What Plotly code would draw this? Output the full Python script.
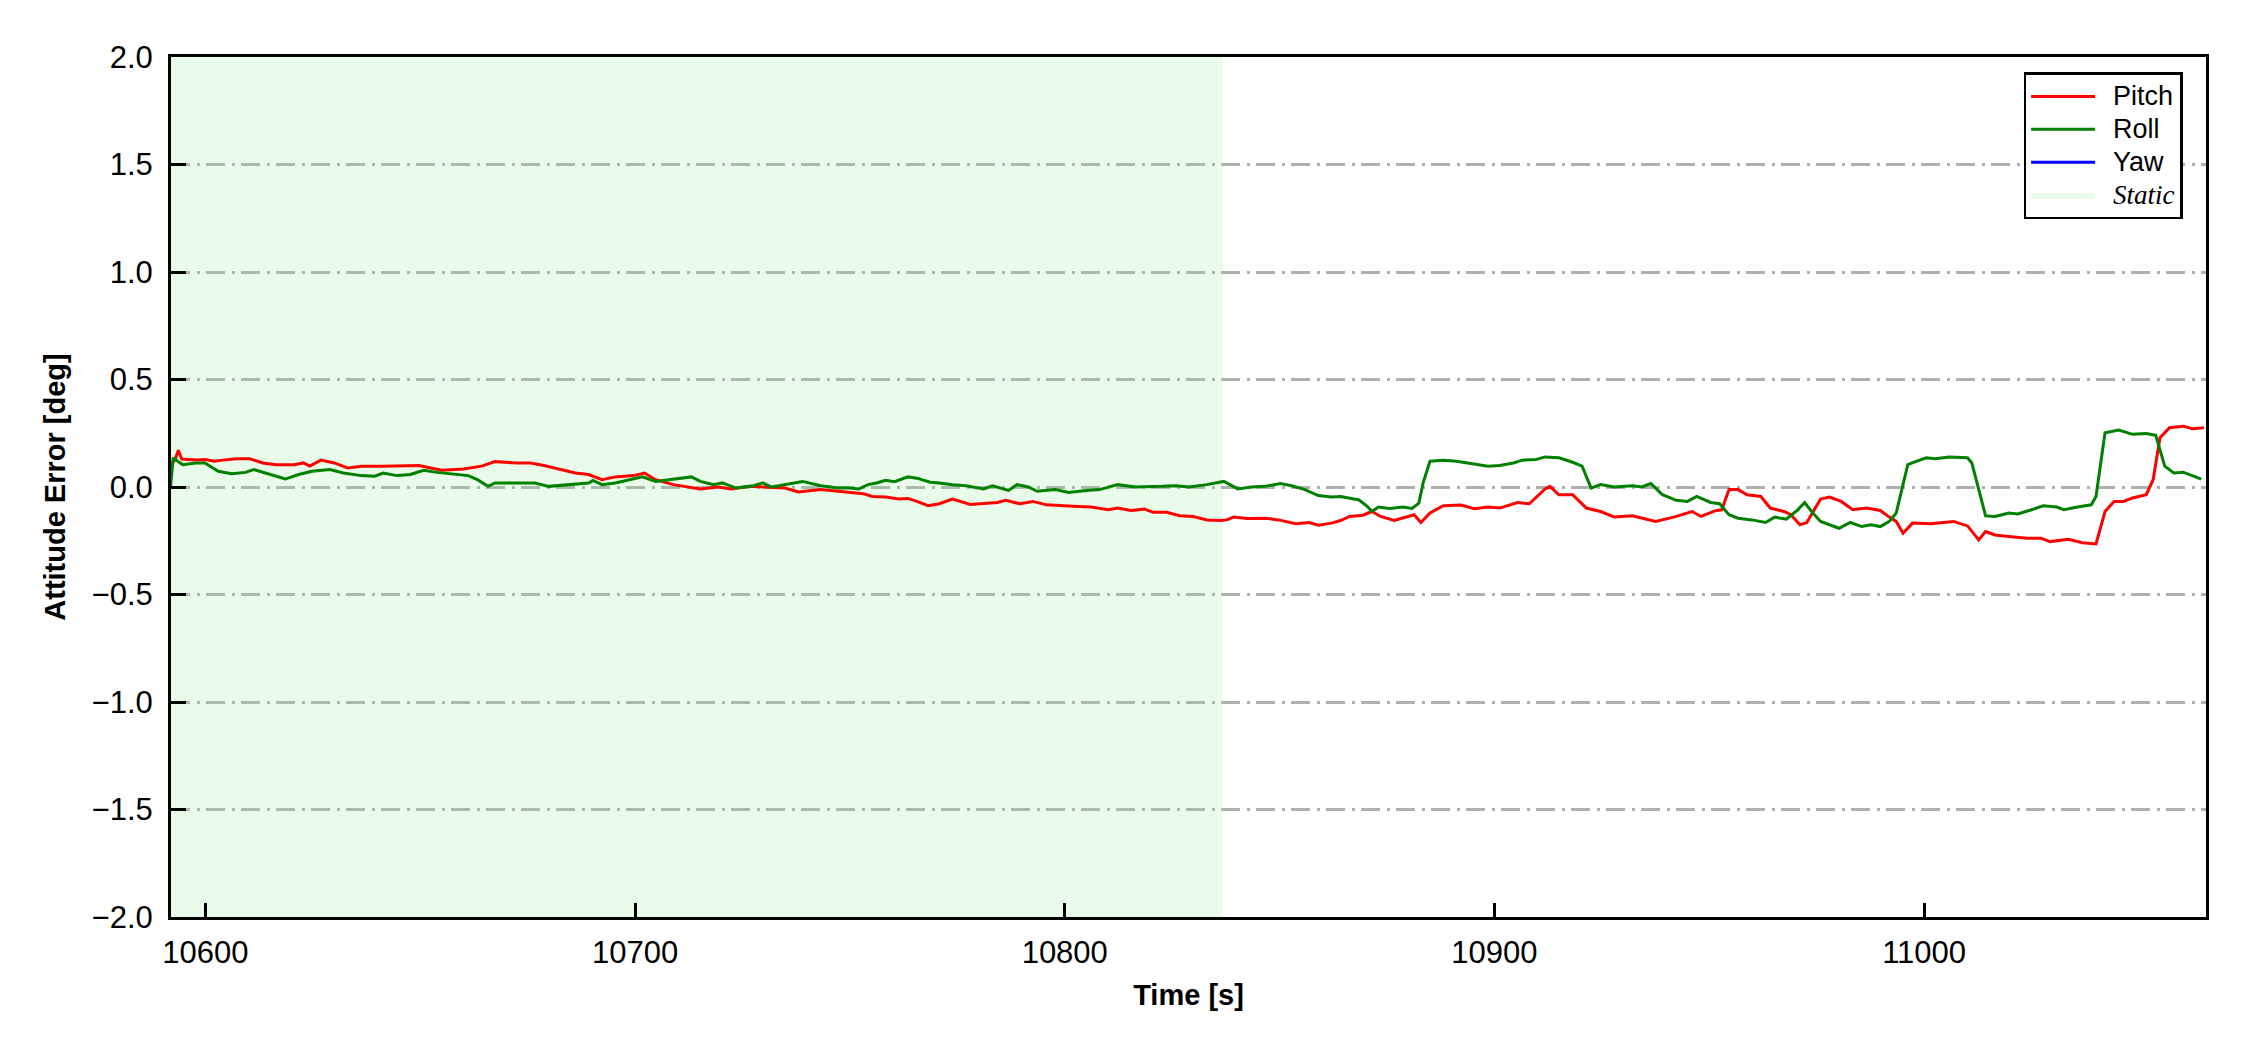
import plotly.graph_objects as go

# ---------------- data ----------------
pitch_t = [10592.0, 10593.0, 10593.7, 10594.5, 10596.0, 10598.0, 10600.0, 10602.0, 10604.0, 10607.2,
           10610.3, 10613.4, 10616.5, 10620.7, 10622.8, 10624.3, 10626.9, 10630.0, 10633.1, 10636.3,
           10641.0, 10645.6, 10649.7, 10655.0, 10660.1, 10664.3, 10667.4, 10672.6, 10675.7, 10678.8,
           10683.0, 10686.1, 10689.2, 10692.3, 10695.4, 10699.6, 10702.2, 10704.8, 10708.9, 10715.2,
           10719.3, 10722.4, 10726.6, 10729.7, 10734.9, 10738.0, 10743.2, 10747.3,
           10750.0, 10753.1, 10755.2, 10758.3, 10761.4, 10763.5, 10765.6, 10768.2, 10770.8, 10773.9,
           10778.0, 10781.1, 10784.3, 10786.3, 10789.5, 10792.6, 10795.7, 10801.9, 10806.1, 10810.2,
           10812.3, 10815.4, 10818.5, 10820.6, 10823.7, 10826.8, 10829.9, 10833.1, 10836.2, 10837.7,
           10839.3, 10842.4, 10846.6, 10849.7, 10853.8, 10856.9, 10859.0, 10862.1, 10864.2, 10866.3,
           10869.4, 10871.5, 10873.5, 10876.7, 10879.8, 10881.3, 10882.9, 10885.0, 10888.1, 10892.2,
           10895.3, 10898.5,
           10901.2, 10905.4, 10908.1, 10911.8, 10912.9, 10915.0, 10918.2, 10921.4, 10924.7, 10927.9,
           10932.1, 10937.5, 10941.7, 10946.0, 10948.1, 10951.3, 10952.9, 10954.6, 10956.7, 10958.8,
           10962.0, 10964.2, 10967.4, 10969.0, 10971.1, 10972.7, 10975.9, 10978.0, 10980.7, 10983.4,
           10986.6, 10989.8, 10991.9, 10993.5, 10995.1, 10997.3, 11001.5, 11004.7, 11006.9, 11010.1,
           11011.7, 11012.7, 11014.3, 11016.5, 11019.7, 11024.0, 11027.2, 11029.3, 11033.6, 11036.8,
           11040.0, 11042.1, 11044.2, 11046.4, 11048.5, 11051.7, 11053.3, 11054.9, 11057.1, 11060.3,
           11062.4, 11065.1]
pitch_v = [0.100, 0.130, 0.171, 0.130, 0.128, 0.126, 0.128, 0.120, 0.125, 0.131,
           0.131, 0.112, 0.104, 0.104, 0.112, 0.097, 0.125, 0.112, 0.089, 0.097,
           0.097, 0.097, 0.100, 0.078, 0.084, 0.097, 0.118, 0.112, 0.112, 0.100,
           0.081, 0.065, 0.058, 0.034, 0.047, 0.053, 0.065, 0.034, 0.011, -0.009,
           0.000, -0.009, 0.003, 0.000, -0.005, -0.023, -0.012, -0.020,
           -0.025, -0.031, -0.044, -0.047, -0.056, -0.053, -0.067, -0.087, -0.078, -0.056,
           -0.081, -0.075, -0.072, -0.062, -0.078, -0.067, -0.083, -0.090, -0.093, -0.106,
           -0.098, -0.109, -0.103, -0.118, -0.118, -0.134, -0.137, -0.153, -0.156, -0.153,
           -0.140, -0.146, -0.145, -0.153, -0.171, -0.165, -0.178, -0.168, -0.156, -0.137,
           -0.131, -0.114, -0.137, -0.156, -0.137, -0.129, -0.165, -0.121, -0.087, -0.084,
           -0.101, -0.093,
           -0.098, -0.072, -0.078, -0.009, 0.003, -0.036, -0.036, -0.098, -0.114, -0.140,
           -0.134, -0.160, -0.140, -0.114, -0.137, -0.111, -0.106, -0.012, -0.012, -0.036,
           -0.044, -0.098, -0.114, -0.129, -0.176, -0.165, -0.056, -0.047, -0.067, -0.106,
           -0.098, -0.109, -0.140, -0.160, -0.215, -0.168, -0.171, -0.165, -0.160, -0.181,
           -0.223, -0.246, -0.207, -0.223, -0.230, -0.238, -0.238, -0.254, -0.243, -0.259,
           -0.265, -0.114, -0.067, -0.067, -0.051, -0.036, 0.034, 0.229, 0.276, 0.283,
           0.271, 0.276]

roll_t = [10591.9, 10592.5, 10594.7, 10597.8, 10599.9, 10601.0, 10603.0, 10606.1, 10609.3, 10611.3,
          10614.4, 10618.6, 10621.7, 10624.8, 10629.0, 10632.1, 10636.3, 10639.4, 10641.4, 10644.6,
          10647.7, 10650.8, 10653.9, 10658.0, 10661.2, 10663.3, 10665.8, 10667.4, 10672.6, 10676.7,
          10679.9, 10685.0, 10689.2, 10690.2, 10692.3, 10695.4, 10698.5, 10701.7, 10704.8, 10708.9,
          10713.1, 10715.2, 10718.3, 10720.3, 10723.5, 10727.6, 10729.7, 10731.8, 10734.9, 10739.0,
          10743.2, 10747.3,
          10750.0, 10752.1, 10754.2, 10756.2, 10758.3, 10760.4, 10763.5, 10765.6, 10768.7, 10770.8,
          10773.9, 10777.0, 10781.1, 10783.2, 10786.9, 10788.9, 10791.5, 10793.6, 10797.8, 10800.9,
          10805.0, 10808.1, 10812.3, 10816.4, 10822.7, 10825.8, 10828.9, 10833.1, 10837.0, 10840.3,
          10843.4, 10846.6, 10850.2, 10852.8, 10855.9, 10859.0, 10862.1, 10864.2, 10867.3, 10868.4,
          10870.4, 10871.5, 10873.0, 10875.6, 10878.7, 10880.8, 10882.4, 10883.4, 10885.0, 10888.1,
          10891.2, 10895.3, 10898.5,
          10901.2, 10904.4, 10906.5, 10909.7, 10911.8, 10915.0, 10918.2, 10920.4, 10922.5, 10924.7,
          10927.9, 10932.1, 10934.3, 10936.4, 10939.1, 10942.3, 10944.9, 10947.1, 10950.3, 10952.4,
          10954.6, 10956.7, 10959.9, 10963.1, 10965.2, 10967.9, 10970.6, 10972.2, 10973.8, 10975.9,
          10980.2, 10982.8, 10985.5, 10987.6, 10989.8, 10991.9, 10993.5, 10996.2, 10998.3, 11000.5,
          11002.6, 11005.8, 11010.1, 11011.1, 11014.3, 11016.5, 11019.7, 11021.8, 11025.0, 11027.7,
          11030.9, 11032.5, 11035.7, 11038.9, 11040.0, 11042.1, 11045.3, 11048.5, 11051.7, 11053.9,
          11056.0, 11058.1, 11060.3, 11062.4, 11064.5]
roll_v = [0.000, 0.135, 0.104, 0.112, 0.112, 0.097, 0.073, 0.062, 0.068, 0.081,
          0.062, 0.037, 0.058, 0.073, 0.081, 0.065, 0.053, 0.050, 0.065, 0.053,
          0.058, 0.078, 0.068, 0.058, 0.053, 0.034, 0.003, 0.019, 0.019, 0.019,
          0.003, 0.011, 0.019, 0.031, 0.011, 0.019, 0.034, 0.047, 0.026, 0.037,
          0.047, 0.026, 0.011, 0.019, -0.005, 0.006, 0.019, 0.000, 0.011, 0.026,
          0.006, -0.005,
          -0.005, -0.009, 0.011, 0.019, 0.031, 0.025, 0.047, 0.041, 0.022, 0.019,
          0.011, 0.006, -0.009, 0.006, -0.016, 0.011, 0.000, -0.020, -0.012, -0.025,
          -0.016, -0.012, 0.011, 0.000, 0.003, 0.006, 0.000, 0.011, 0.026, -0.009,
          0.000, 0.003, 0.016, 0.006, -0.012, -0.040, -0.047, -0.044, -0.056, -0.059,
          -0.090, -0.114, -0.093, -0.100, -0.093, -0.100, -0.075, 0.019, 0.120, 0.125,
          0.120, 0.109, 0.097,
          0.100, 0.112, 0.125, 0.128, 0.140, 0.136, 0.115, 0.097, -0.005, 0.011,
          0.000, 0.006, 0.000, 0.016, -0.036, -0.062, -0.067, -0.044, -0.072, -0.078,
          -0.129, -0.145, -0.153, -0.165, -0.140, -0.150, -0.106, -0.072, -0.114, -0.160,
          -0.192, -0.165, -0.184, -0.176, -0.184, -0.160, -0.121, 0.104, 0.120, 0.136,
          0.131, 0.140, 0.136, 0.112, -0.134, -0.137, -0.121, -0.125, -0.106, -0.087,
          -0.093, -0.106, -0.093, -0.083, -0.044, 0.252, 0.265, 0.245, 0.249, 0.240,
          0.097, 0.065, 0.069, 0.053, 0.037]

# Yaw is listed in the legend but has no visible samples in the plotted window
yaw_t = []
yaw_v = []

static_start = 10592.0
static_end = 10836.7

x_range = [10592.0, 11065.6]
y_range = [-2.0, 2.0]
x_ticks = [10600, 10700, 10800, 10900, 11000]
y_ticks = [-2.0, -1.5, -1.0, -0.5, 0.0, 0.5, 1.0, 1.5, 2.0]

# ---------------- figure ----------------
def legend_label(text, serif_italic=False):
    if serif_italic:
        return ('&nbsp;&nbsp;<span style="font-size:27px;font-family:\'Liberation Serif\', '
                '\'DejaVu Serif\', serif"><i>' + text + '</i></span>')
    return '&nbsp;&nbsp;<span style="font-size:27px">' + text + '</span>'


fig = go.Figure()

fig.add_trace(go.Scatter(
    x=[static_start, static_end, static_end, static_start, static_start],
    y=[y_range[0], y_range[0], y_range[1], y_range[1], y_range[0]],
    fill="toself", fillcolor="rgba(144,238,144,0.2)", mode="lines",
    line=dict(width=0, color="rgba(144,238,144,0.2)"),
    name=legend_label("Static", serif_italic=True),
    legendrank=4, hoverinfo="skip"))

fig.add_trace(go.Scatter(x=pitch_t, y=pitch_v, mode="lines", name=legend_label("Pitch"),
                         line=dict(color="#ff0000", width=3), legendrank=1))
fig.add_trace(go.Scatter(x=roll_t, y=roll_v, mode="lines", name=legend_label("Roll"),
                         line=dict(color="#008000", width=3), legendrank=2))
fig.add_trace(go.Scatter(x=yaw_t if yaw_t else [None], y=yaw_v if yaw_v else [None],
                         mode="lines", name=legend_label("Yaw"),
                         line=dict(color="#0000ff", width=3), legendrank=3))

tick_font = dict(family="Liberation Sans, Arial, sans-serif", size=31, color="black")
title_font = dict(family="Liberation Sans, Arial, sans-serif", size=29, color="black")

# the page body adds an 8px offset, so the figure is sized/margined to land the
# plot area on the reference position
fig.update_layout(
    width=2242, height=1042,
    margin=dict(l=163, r=44, t=49, b=133),
    paper_bgcolor="white", plot_bgcolor="white",
    showlegend=True,
    legend=dict(
        x=0.9885, y=0.982, xanchor="right", yanchor="top",
        bgcolor="white", bordercolor="black", borderwidth=2.5,
        font=dict(family="Liberation Sans, Arial, sans-serif", size=23, color="black"),
        tracegroupgap=0, itemwidth=64,
    ),
    xaxis=dict(
        range=x_range, tickmode="array", tickvals=x_ticks, tickformat="d",
        ticks="inside", ticklen=14, tickwidth=3, tickcolor="black",
        showline=True, linecolor="black", linewidth=3, mirror=True,
        showgrid=False, zeroline=False,
        tickfont=tick_font, ticklabelstandoff=6,
        title=dict(text="<b>Time [s]</b>", font=title_font, standoff=16),
    ),
    yaxis=dict(
        range=y_range, tickmode="array", tickvals=y_ticks, tickformat=".1f",
        ticks="inside", ticklen=15, tickwidth=3, tickcolor="black",
        showline=True, linecolor="black", linewidth=3, mirror=True,
        showgrid=True, gridcolor="#b0b0b0", gridwidth=2.5, griddash="19px,6.5px,3px,6.5px",
        zeroline=False,
        tickfont=tick_font, ticklabelstandoff=9,
        title=dict(text="<b>Attitude Error [deg]</b>", font=title_font, standoff=18),
    ),
)

fig.write_html("out.html")
